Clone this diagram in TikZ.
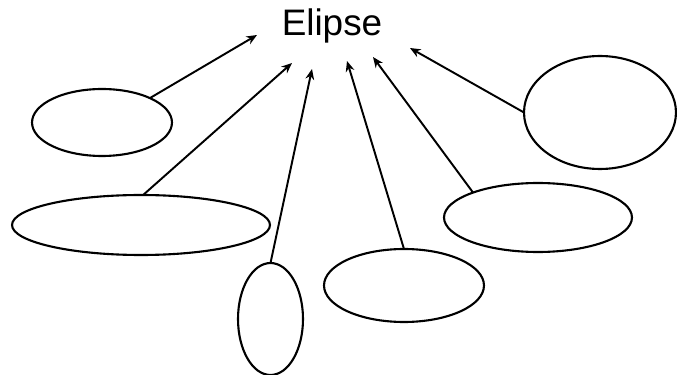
\documentclass[tikz,border=0pt]{standalone}
\usepackage{fontspec}
\newfontfamily\labelfont{Liberation Sans}
\usepackage{tikz}
\usetikzlibrary{positioning,arrows.meta,shapes.geometric}
\tikzset{
  oval/.style={draw,ellipse,line width=1.2pt,inner sep=0pt,outer sep=0pt},
  pointer/.style={line width=1.1pt,-{Stealth[length=6pt,width=5pt]}}
}

\begin{document}
\begin{tikzpicture}[x=0.02cm,y=-0.02cm]
\useasboundingbox (0,0) rectangle (677,375);
% Title
\node[font=\labelfont\fontsize{21}{24}\selectfont,anchor=base] (title) at (332,36) {Elipse};
% Ovals
\node[oval,minimum width=2.8cm,minimum height=1.34cm] (e1) at (102,122.5) {};
\node[oval,minimum width=5.16cm,minimum height=1.2cm] (e2) at (141,225) {};
\node[oval,minimum width=1.3cm,minimum height=2.24cm] (e3) at (270.5,319) {};
\node[oval,minimum width=3.2cm,minimum height=1.46cm] (e4) at (404,285.5) {};
\node[oval,minimum width=3.76cm,minimum height=1.38cm] (e5) at (538,217.5) {};
\node[oval,minimum width=3.04cm,minimum height=2.26cm] (e6) at (600,112.5) {};
% Arrow tips below the title
\coordinate (t1) at (257,35);
\coordinate (t2) at (292,63);
\coordinate (t3) at (312,69);
\coordinate (t4) at (347,61);
\coordinate (t5) at (373,57);
\coordinate (t6) at (410,48);
% Pointers
\draw[pointer] (e1.27) -- (t1);
\draw[pointer] (e2.86) -- (t2);
\draw[pointer] (e3.north) -- (t3);
\draw[pointer] (e4.north) -- (t4);
\draw[pointer] (e5.159) -- (t5);
\draw[pointer] (e6.west) -- (t6);
\end{tikzpicture}
\end{document}
